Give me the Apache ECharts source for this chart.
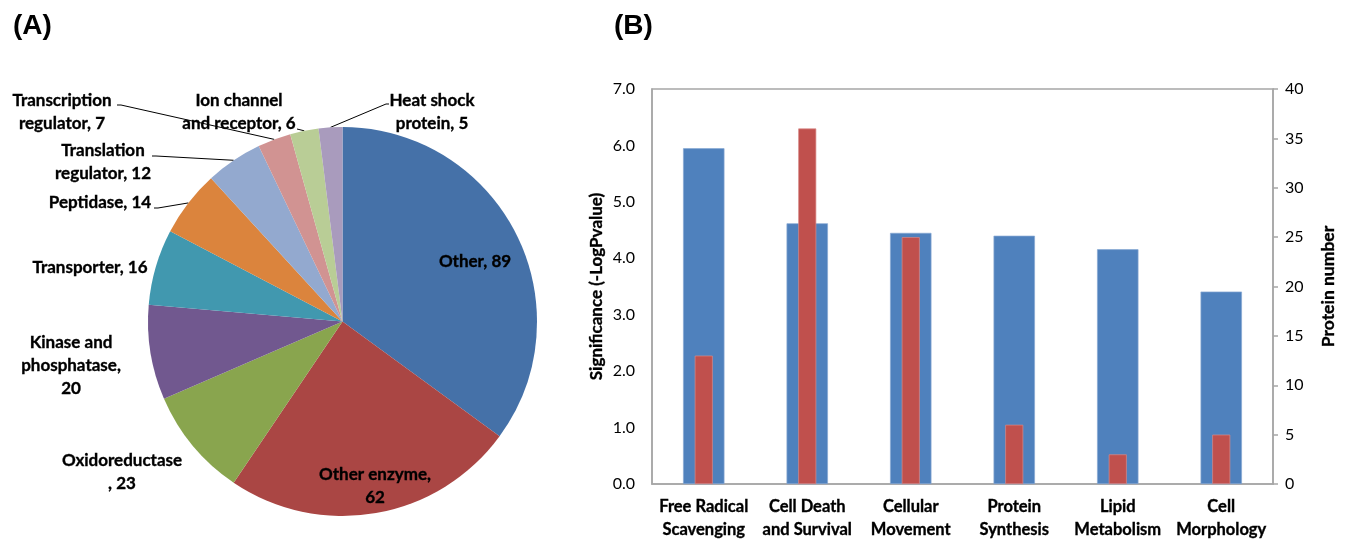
<!DOCTYPE html>
<html><head><meta charset="utf-8">
<script src="https://cdn.jsdelivr.net/npm/echarts@6/dist/echarts.min.js"></script>
<style>html,body{margin:0;padding:0;background:#fff}#c{width:1346px;height:542px}</style>
</head><body><div id="c"></div>
<script>
// Pie (A)
const pieNames = ['Other','Other enzyme','Oxidoreductase','Kinase and phosphatase','Transporter','Peptidase','Translation regulator','Transcription regulator','Ion channel and receptor','Heat shock protein'];
const pieValues = [89,62,23,20,16,14,12,7,6,5];
const pieLabels = ['Other, 89','Other enzyme,\n62','Oxidoreductase\n, 23','Kinase and\nphosphatase,\n20','Transporter, 16','Peptidase, 14','Translation\nregulator, 12','Transcription\nregulator, 7','Ion channel\nand receptor, 6','Heat shock\nprotein, 5'];
const pieColors = ['#4571A8','#AA4644','#89A54E','#71588F','#4198AF','#DB843D','#93A9CF','#D19392','#B9CD96','#A99BBD'];
// Bars (B)
const categories = ['Free Radical\nScavenging','Cell Death\nand Survival','Cellular\nMovement','Protein\nSynthesis','Lipid\nMetabolism','Cell\nMorphology'];
const significance = [5.95,4.62,4.45,4.40,4.16,3.41];
const proteinNumber = [13,36,25,6,3,5];
const leftTicks = ['0.0','1.0','2.0','3.0','4.0','5.0','6.0','7.0'];

// label placement (layout only): label centre and leader-line end near the label
const labelPlace = [
  {c:[475,262]},
  {c:[375,486]},
  {c:[122,472]},
  {c:[71,366]},
  {c:[90,268]},
  {c:[100,203], line:[[158,208],[154,208]]},
  {c:[103,162], line:[[156,156],[152,156]]},
  {c:[62,112],  line:[[121,105],[117,105]]},
  {c:[239,112], line:[[297,129]]},
  {c:[432,112], line:[[386,104],[389,104]]}
];

const FONT = 'Lato';
const BOLD = {fontWeight:'bold', textBorderColor:'#000', textBorderWidth:0.35};
const chart = echarts.init(document.getElementById('c'), null, {renderer:'canvas'});
const insideIdx = [0,1];
chart.setOption({
  animation:false,
  textStyle:{fontFamily:FONT},
  title:[
    {text:'(A)', left:8, top:7, textStyle:{fontFamily:'Liberation Sans', fontSize:28, fontWeight:'bold', color:'#000'}},
    {text:'(B)', left:609, top:7, textStyle:{fontFamily:'Liberation Sans', fontSize:28, fontWeight:'bold', color:'#000'}}
  ],
  grid:{left:652, right:73, top:89, bottom:58, show:true, borderColor:'#A6A6A6', borderWidth:1.5},
  xAxis:[
    {type:'category', data:categories,
     axisLine:{lineStyle:{color:'#A6A6A6', width:1.5}}, axisTick:{show:false},
     axisLabel:Object.assign({color:'#000', fontSize:16.5, lineHeight:23, margin:11, interval:0}, BOLD)},
    {type:'category', data:categories, show:false}
  ],
  yAxis:[
    {type:'value', min:0, max:7, interval:1, position:'left',
     name:'Significance (-LogPvalue)', nameLocation:'middle', nameGap:47, nameRotate:90,
     nameTextStyle:Object.assign({color:'#000', fontSize:17}, BOLD),
     axisLine:{show:true, lineStyle:{color:'#A6A6A6', width:1.5}}, axisTick:{show:false},
     splitLine:{show:false},
     axisLabel:{color:'#000', fontSize:16, margin:17, formatter:v=>leftTicks[Math.round(v)]}},
    {type:'value', min:0, max:40, interval:5, position:'right',
     name:'Protein number', nameLocation:'middle', nameGap:46, nameRotate:90,
     nameTextStyle:Object.assign({color:'#000', fontSize:17.5}, BOLD),
     axisLine:{show:true, lineStyle:{color:'#A6A6A6', width:1.5}},
     axisTick:{show:true, inside:false, length:5, lineStyle:{color:'#A6A6A6', width:1.5}},
     splitLine:{show:false},
     axisLabel:{color:'#000', fontSize:16, margin:12}}
  ],
  series:[
    {type:'bar', xAxisIndex:0, yAxisIndex:0, data:significance, barWidth:'40%',
     itemStyle:{color:'#4F81BD', borderColor:'#86A8D3', borderWidth:0.7}, z:2},
    {type:'bar', xAxisIndex:1, yAxisIndex:1, data:proteinNumber, barWidth:'17.4%',
     itemStyle:{color:'#C0504D', borderColor:'#D98A88', borderWidth:0.7}, z:3},
    {type:'pie', center:[342.5,321.5], radius:194.5, startAngle:90, clockwise:true,
     data:pieValues.map((v,i)=>({name:pieNames[i], value:v,
        itemStyle:{color:pieColors[i]},
        label:{position: insideIdx.includes(i)?'inside':'outside', formatter:pieLabels[i]},
        labelLine:{show: !!labelPlace[i].line}})),
     label:Object.assign({color:'#000', fontSize:17, lineHeight:23, fontFamily:FONT, align:'center'}, BOLD),
     labelLine:{length:10, length2:10, lineStyle:{color:'#000', width:1}},
     labelLayout:function(p){
       const pl = labelPlace[p.dataIndex];
       const out = {x:pl.c[0], y:pl.c[1], align:'center', verticalAlign:'middle'};
       if (pl.line && p.labelLinePoints) {
         out.labelLinePoints = [p.labelLinePoints[0]].concat(pl.line);
       }
       return out;
     },
     itemStyle:{borderWidth:0}}
  ]
});
</script></body></html>
